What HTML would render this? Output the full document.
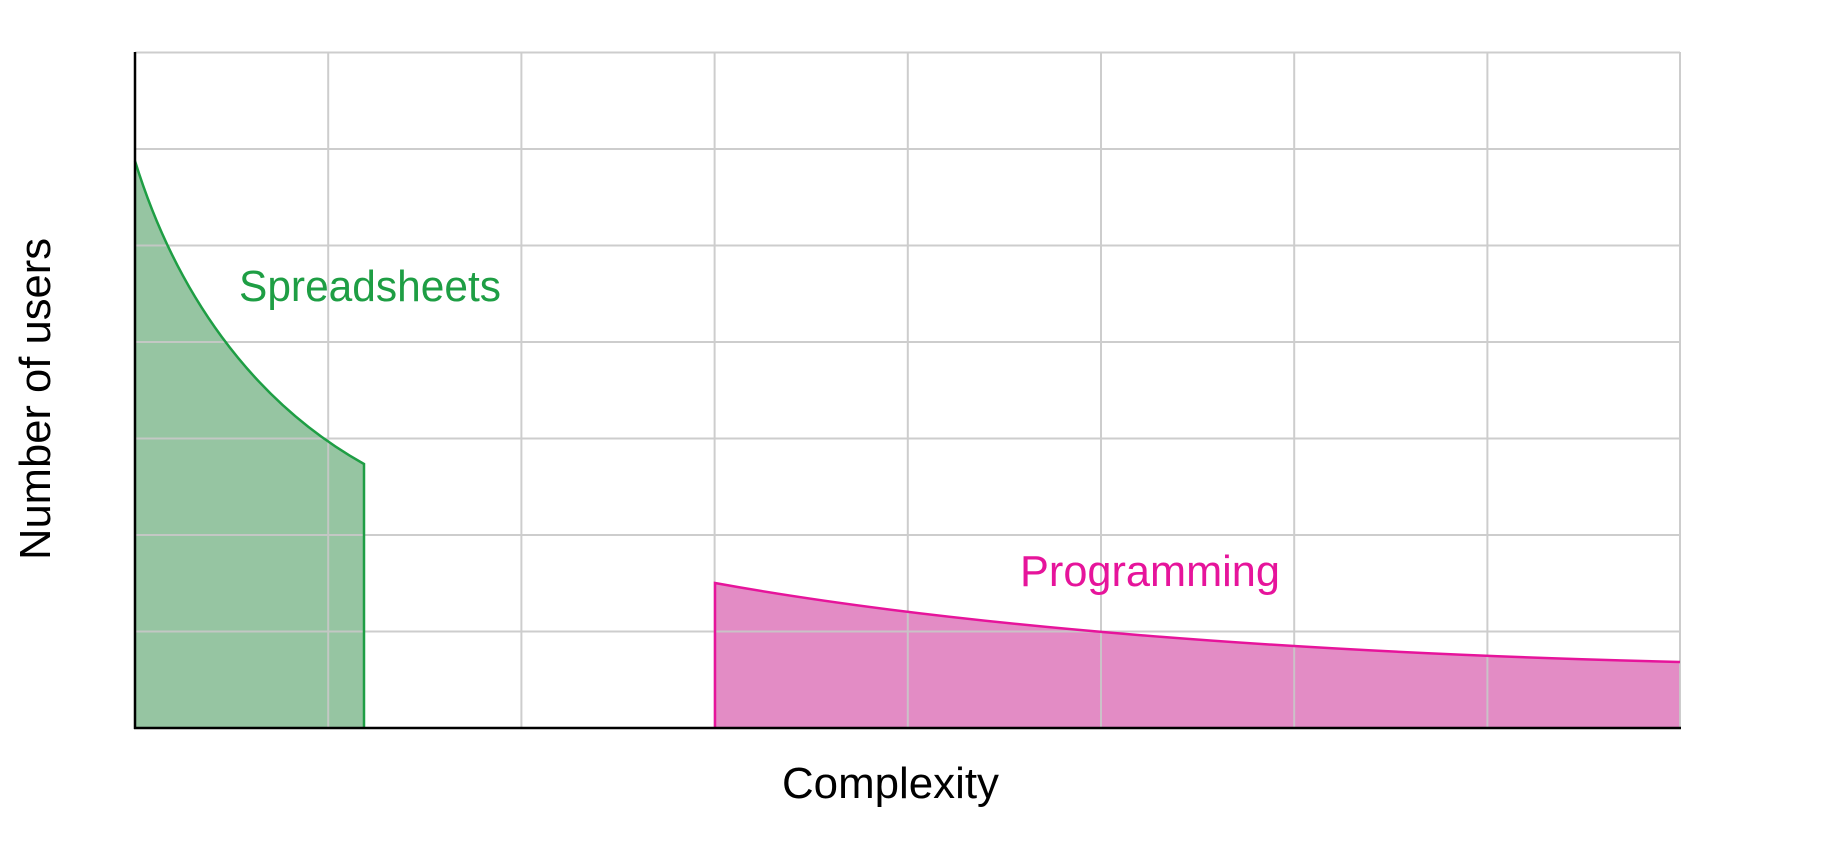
<!DOCTYPE html>
<html><head><meta charset="utf-8"><style>
html,body{margin:0;padding:0;background:#fff;}
svg{display:block;}
text{font-family:"Liberation Sans",sans-serif;}
</style></head><body>
<svg width="1825" height="850" viewBox="0 0 1825 850" xmlns="http://www.w3.org/2000/svg">
<rect width="1825" height="850" fill="#fff"/>
<path d="M135,161 C175,290 250,400 364,464 L364,728 L135,728 Z" fill="#2e8b45" fill-opacity="0.5"/>
<path d="M715,583 C880,613 1180,650 1680,662 L1680,728 L715,728 Z" fill="#d0409e" fill-opacity="0.6"/>
<g stroke="#c8c8c8" stroke-width="2" fill="none" opacity="0.9">
<line x1="135" y1="52.5" x2="1680" y2="52.5"/>
<line x1="135" y1="149" x2="1680" y2="149"/>
<line x1="135" y1="245.5" x2="1680" y2="245.5"/>
<line x1="135" y1="342" x2="1680" y2="342"/>
<line x1="135" y1="438.5" x2="1680" y2="438.5"/>
<line x1="135" y1="535" x2="1680" y2="535"/>
<line x1="135" y1="631.5" x2="1680" y2="631.5"/>
<line x1="328.2" y1="52" x2="328.2" y2="728"/>
<line x1="521.4" y1="52" x2="521.4" y2="728"/>
<line x1="714.6" y1="52" x2="714.6" y2="728"/>
<line x1="907.8" y1="52" x2="907.8" y2="728"/>
<line x1="1101" y1="52" x2="1101" y2="728"/>
<line x1="1294.2" y1="52" x2="1294.2" y2="728"/>
<line x1="1487.4" y1="52" x2="1487.4" y2="728"/>
<line x1="1680" y1="52" x2="1680" y2="728"/>
</g>
<path d="M135,161 C175,290 250,400 364,464 L364,728" fill="none" stroke="#1e9e44" stroke-width="2.5"/>
<path d="M715,728 L715,583 C880,613 1180,650 1680,662" fill="none" stroke="#e6149b" stroke-width="2.5"/>
<line x1="135" y1="52" x2="135" y2="729" stroke="#000" stroke-width="2.5"/>
<line x1="134" y1="728" x2="1681" y2="728" stroke="#000" stroke-width="2.5"/>
<text x="239" y="301" font-size="44" fill="#1e9e44" textLength="262" lengthAdjust="spacingAndGlyphs">Spreadsheets</text>
<text x="1020" y="586" font-size="44" fill="#e6149b" textLength="260" lengthAdjust="spacingAndGlyphs">Programming</text>
<text x="782" y="798" font-size="44" fill="#000" textLength="217" lengthAdjust="spacingAndGlyphs">Complexity</text>
<text transform="translate(50,560) rotate(-90)" x="0" y="0" font-size="44" fill="#000" textLength="322" lengthAdjust="spacingAndGlyphs">Number of users</text>
</svg>
</body></html>
